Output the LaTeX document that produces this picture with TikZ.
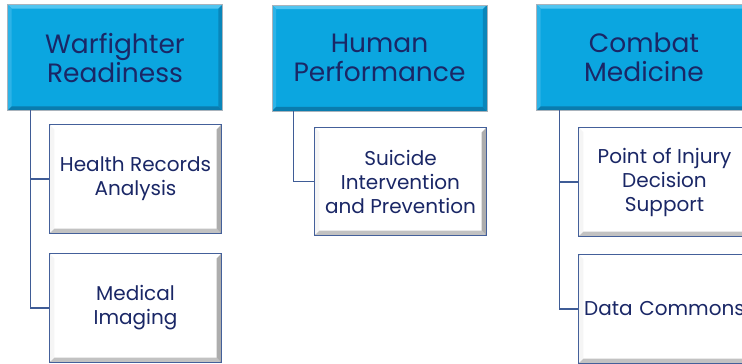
\documentclass[tikz,border=0pt]{standalone}
\usepackage{fontspec}
\setmainfont{Poppins}
\usetikzlibrary{calc}
\definecolor{navytext}{HTML}{1A2766}
\definecolor{headfill}{HTML}{0BA6E0}
\definecolor{headlight}{HTML}{52C5F0}
\definecolor{headleft}{HTML}{2DB3E7}
\definecolor{headdark}{HTML}{0A7CAE}
\definecolor{headright}{HTML}{0986BA}
\definecolor{headedge}{HTML}{A9B3BC}
\definecolor{boxedge}{HTML}{44609A}
\definecolor{linkcol}{HTML}{3F5C96}
\tikzset{
  head/.style={rectangle, fill=headfill, draw=headedge, line width=0.8pt,
    minimum width=214pt, minimum height=105pt, text=navytext,
    font=\fontsize{26.5}{29}\selectfont, align=center, inner sep=0pt},
  leaf/.style={rectangle, fill=white, draw=boxedge, line width=1.2pt,
    minimum width=171pt, minimum height=108pt, text=navytext,
    font=\fontsize{20}{24}\selectfont, align=center, inner sep=0pt},
  link/.style={draw=linkcol, line width=1.1pt},
}
% bevel: #1 node, #2 top, #3 left, #4 bottom, #5 right, #6 depth
\newcommand\bevelframe[6]{%
  \fill[#2] (#1.north west) -- (#1.north east) -- ($(#1.north east)+(-#6,#6)$) -- ($(#1.north west)+(#6,#6)$) -- cycle;
  \fill[#3] (#1.north west) -- ($(#1.north west)+(#6,#6)$) -- ($(#1.south west)+(#6,-#6)$) -- (#1.south west) -- cycle;
  \fill[#4] (#1.south west) -- ($(#1.south west)+(#6,-#6)$) -- ($(#1.south east)+(-#6,-#6)$) -- (#1.south east) -- cycle;
  \fill[#5] (#1.north east) -- ($(#1.north east)+(-#6,#6)$) -- ($(#1.south east)+(-#6,-#6)$) -- (#1.south east) -- cycle;
}
\begin{document}
\begin{tikzpicture}[x=1pt, y=-1pt]
\useasboundingbox (0,0) rectangle (742,364);
\clip (0,0) rectangle (742,364);
\fill[white] (0,0) rectangle (742,364);

% category headers
\node[head] (h1) at (115,57.5) {\phantom{X}};
\node[head] (h2) at (379.5,58) {\phantom{X}};
\node[head] (h3) at (644,57.5) {\phantom{X}};

% topic boxes
\node[leaf] (c1a) at (135.5,179) {\phantom{X}};
\node[leaf] (c1b) at (135.5,308) {\phantom{X}};
\node[leaf, minimum height=107pt] (c2) at (400.5,181.5) {\phantom{X}};
\node[leaf] (c3a) at (664.5,182) {\phantom{X}};
\node[leaf] (c3b) at (664.5,309) {\phantom{X}};

% bevelled edges
\foreach \n in {h1,h2,h3}{\bevelframe{\n}{headlight}{headleft}{headdark}{headright}{4}}
\foreach \n in {c1a,c1b,c2,c3a,c3b}{\bevelframe{\n}{white}{black!4}{black!24}{black!32}{5}}
\foreach \n in {h1,h2,h3}{\draw[headedge, line width=0.8pt] (\n.north west) rectangle (\n.south east);}
\foreach \n in {c1a,c1b,c2,c3a,c3b}{\draw[boxedge, line width=1.2pt] (\n.north west) rectangle (\n.south east);}

% labels
\node[head, draw=none, fill=none] at (h1) {Warfighter\\Readiness};
\node[head, draw=none, fill=none] at (h2) {Human\\Performance};
\node[head, draw=none, fill=none] at (h3) {Combat\\Medicine};
\node[leaf, draw=none, fill=none] at (c1a) {Health Records\\Analysis};
\node[leaf, draw=none, fill=none] at (c1b) {Medical\\Imaging};
\node[leaf, draw=none, fill=none] at (c2) {Suicide\\Intervention\\and Prevention};
\node[leaf, draw=none, fill=none] at (c3a) {Point of Injury\\Decision\\Support};
\node[leaf, draw=none, fill=none, text width=171pt] at (c3b) {\makebox[0pt]{Data Commons}};

% connectors
\coordinate (t1) at ($(h1.south west)+(23,0)$);
\coordinate (t2) at ($(h2.south west)+(21,0)$);
\coordinate (t3) at ($(h3.south west)+(23,0)$);
\draw[link] (t1) |- (c1a.west);
\draw[link] (t1) |- (c1b.west);
\draw[link] (t2) |- (c2.west);
\draw[link] (t3) |- (c3a.west);
\draw[link] (t3) |- (c3b.west);
\end{tikzpicture}
\end{document}
